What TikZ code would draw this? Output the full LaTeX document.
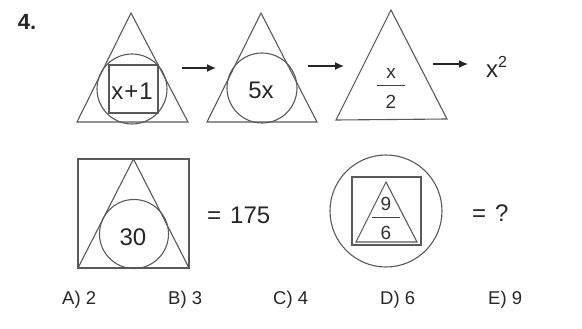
\documentclass[tikz,border=0pt]{standalone}
\usepackage{fontspec}
\setmainfont{Liberation Sans}
\usetikzlibrary{arrows.meta}
\begin{document}
\begin{tikzpicture}[x=1pt,y=-1pt,
  figline/.style={draw=black!65, line width=1.1pt},
  lbl/.style={inner sep=0pt, text=black!85, font=\fontsize{24}{24}\selectfont},
  frac/.style={inner sep=0pt, text=black!80, font=\fontsize{19}{19}\selectfont},
  ans/.style={inner sep=0pt, text=black!85, font=\fontsize{18.5}{18.5}\selectfont},
  arr/.style={-{Latex[length=9pt,width=8pt]}, line width=1.4pt, draw=black!85}]
\useasboundingbox (0,0) rectangle (582,329);
% number
\node[inner sep=0pt, font=\fontsize{22}{22}\selectfont\bfseries, text=black!85] (num) at (27,22) {4.};
% figure 1
\draw[figline] (131,13) -- (77,122) -- (188,122) -- cycle;
\draw[figline] (132,89) circle (35);
\draw[figline] (109,65) rectangle (158,113);
\node[lbl] (t1) at (132,91) {x\kern1pt+\kern1pt1};
% figure 2
\draw[figline] (261,13) -- (207,122) -- (317,122) -- cycle;
\draw[figline] (262,88) circle (35);
\node[lbl] (t2) at (261,90) {5x};
% figure 3
\draw[figline] (391,10) -- (336,120) -- (447,119) -- cycle;
\node[frac] (t3n) at (391,73) {x};
\draw[draw=black!75, line width=1pt] (377,86) -- (405,86);
\node[frac] (t3d) at (391,102) {2};
% result
\node[lbl, anchor=west] (res) at (486,67) {x\raisebox{0.42em}{\fontsize{16}{16}\selectfont 2}};
% arrows
\coordinate (a1s) at (182,68); \coordinate (a1e) at (216,68);
\coordinate (a2s) at (308,66); \coordinate (a2e) at (344,66);
\coordinate (a3s) at (433,64); \coordinate (a3e) at (468,64);
\draw[arr] (a1s) -- (a1e);
\draw[arr] (a2s) -- (a2e);
\draw[arr] (a3s) -- (a3e);
% bottom left
\draw[figline] (78,159) rectangle (189,268);
\draw[figline] (133.5,159) -- (78,268) -- (189,268) -- cycle;
\draw[figline] (134,234) circle (34.5);
\node[lbl] (t4) at (133,237) {30};
\node[lbl, anchor=west] (eq1) at (207,215) {=\hspace{9pt}175};
% bottom right
\draw[figline] (386,211) circle (56);
\draw[figline] (352,177) rectangle (421,245);
\draw[figline] (386,182) -- (356,242) -- (417,242) -- cycle;
\node[frac] (t5n) at (386,204) {9};
\draw[draw=black!75, line width=1pt] (372,217) -- (400,217);
\node[frac] (t5d) at (386,233) {6};
\node[lbl, anchor=west] (eq2) at (472,213) {=\hspace{9pt}?};
% answers
\node[ans, anchor=west] (A) at (62,300) {A) 2};
\node[ans, anchor=west] (B) at (168,300) {B) 3};
\node[ans, anchor=west] (C) at (273,300) {C) 4};
\node[ans, anchor=west] (D) at (380,300) {D) 6};
\node[ans, anchor=west] (E) at (488,300) {E) 9};
\end{tikzpicture}
\end{document}
